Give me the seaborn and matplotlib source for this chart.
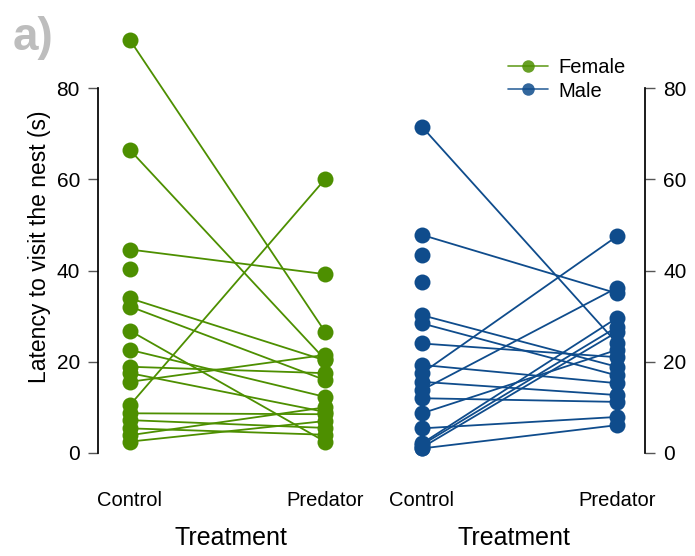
import numpy as np
import pandas as pd
import matplotlib
matplotlib.use("Agg")
import matplotlib.pyplot as plt
import seaborn as sns

sns.set_theme(style="ticks")
plt.rcParams["font.family"] = ["Liberation Sans", "DejaVu Sans"]
plt.rcParams["text.color"] = "black"
plt.rcParams["axes.labelcolor"] = "black"
plt.rcParams["xtick.labelcolor"] = "black"
plt.rcParams["ytick.labelcolor"] = "black"

treatments = ["Control", "Predator"]

# Paired latencies (s) per individual: control trial, predator trial
female_control = [90.5, 66.4, 44.6, 40.3, 33.9, 32.1, 26.8, 22.6, 18.9, 17.5,
                  15.6, 10.5, 8.7, 7.2, 5.4, 3.9, 2.5]
female_predator = [26.6, 20.5, 39.2, np.nan, 20.3, 16.0, 2.5, 12.3, 17.5, 9.0,
                   21.5, 60.0, 8.5, 5.5, 4.0, 10.0, 7.0]

male_control = [71.5, 47.8, 43.4, 37.5, 30.2, 28.4, 24.0, 19.3, 17.5, 15.6,
                13.8, 12.0, 8.7, 5.4, 2.1, 1.8, 1.2, 1.0]
male_predator = [24.1, 35.0, np.nan, np.nan, 18.9, 17.0, 21.0, 15.3, 47.5, 12.7,
                 36.2, 11.2, 22.6, 7.9, 29.6, 27.6, 26.5, 6.1]

sexes = ["Female", "Male"]
colors = {"Female": "#4d8f00", "Male": "#0f4c8c"}


def long_table(sex, ctrl, pred):
    n = len(ctrl)
    return pd.DataFrame({
        "id": [f"{sex}{i}" for i in range(n)] * 2,
        "pos": [0] * n + [1] * n,
        "latency": list(ctrl) + list(pred),
        "sex": [sex] * (2 * n),
    })


df_f = long_table("Female", female_control, female_predator)
df_m = long_table("Male", male_control, male_predator)

fig = plt.figure(figsize=(6.95, 5.56), dpi=100)
W, H = 695, 556
ymin, ymax = -2.5, 93
bottom = 1 - 464.4 / H
top = 1 - 28.7 / H

axL = fig.add_axes([98 / W, bottom, (364 - 98) / W, top - bottom])
axR = fig.add_axes([383 / W, bottom, (645 - 383) / W, top - bottom])

for ax, d, sex in [(axL, df_f, "Female"), (axR, df_m, "Male")]:
    sns.lineplot(data=d, x="pos", y="latency", units="id", estimator=None,
                 color=colors[sex], marker="o", markersize=11.5,
                 markeredgewidth=0, linewidth=1.3, ax=ax, legend=False)
    ax.set_ylim(ymin, ymax)
    ax.set_xticks([0, 1])
    ax.set_xticklabels(treatments, fontsize=14.5)
    ax.tick_params(axis="x", length=0, pad=19)
    ax.set_xlabel("Treatment", fontsize=18, labelpad=12)
    ax.set_yticks([0, 20, 40, 60, 80])
    ax.tick_params(axis="y", length=7, width=1, color="#555555",
                   labelsize=15, pad=6)
    for s in ["top", "bottom"]:
        ax.spines[s].set_visible(False)

axL.set_xlim(-0.164, 1.2)
axR.set_xlim(-0.2, 1.144)

axL.spines["right"].set_visible(False)
axL.spines["left"].set_bounds(0, 80)
axL.spines["left"].set_color("black")
axL.set_ylabel("Latency to visit the nest (s)", fontsize=16.5, labelpad=4)

axR.spines["left"].set_visible(False)
axR.spines["right"].set_bounds(0, 80)
axR.spines["right"].set_color("black")
axR.yaxis.tick_right()
axR.set_ylabel("")

handles = [plt.Line2D([], [], color=colors[s], marker="o", markersize=9,
                      markeredgewidth=0, linewidth=1.2, alpha=0.85)
           for s in sexes]
axR.legend(handles, sexes, loc="upper left", bbox_to_anchor=(0.445, 0.951),
           frameon=False, fontsize=14.5, handlelength=2.0, handletextpad=0.5,
           labelspacing=0.22, borderaxespad=0)

fig.text(13 / W, 1 - 38 / H, "a)", fontsize=33, fontweight="bold",
         color="#bdbdbd", va="center", ha="left")

fig.savefig("out.png", dpi=100)
